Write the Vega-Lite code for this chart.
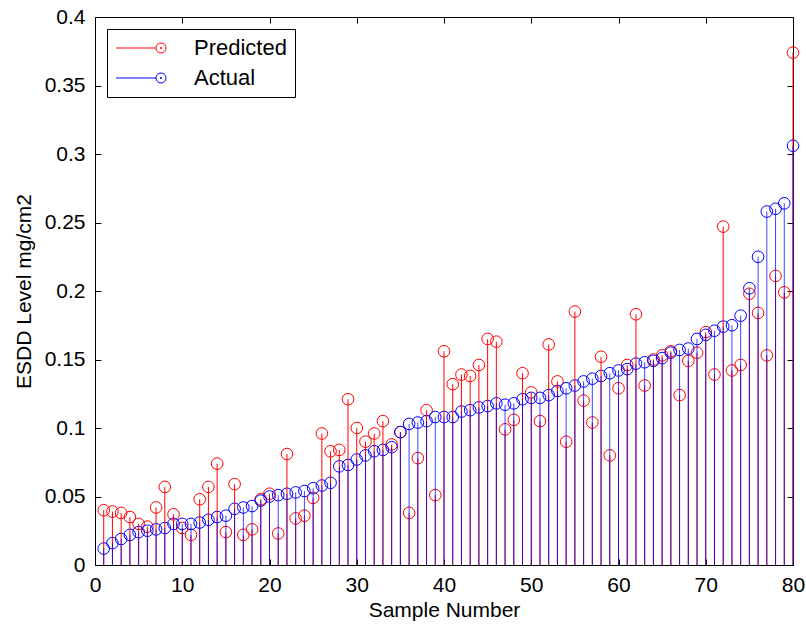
{
  "$schema": "https://vega.github.io/schema/vega-lite/v6.json",
  "width": 698,
  "height": 548,
  "autosize": {"type": "none"},
  "padding": {"left": 95, "top": 17, "right": 13, "bottom": 64},
  "background": "white",
  "config": {
    "view": {"stroke": "black", "strokeWidth": 1},
    "font": "Liberation Sans",
    "axis": {"labelFont": "Liberation Sans", "titleFont": "Liberation Sans", "labelColor": "black", "titleColor": "black", "domainColor": "black", "tickColor": "black", "grid": false, "titleFontWeight": "normal"},
    "legend": {"title": null, "orient": "top-left", "offset": 12, "strokeColor": "black", "fillColor": "white", "padding": 8,
               "labelFont": "Liberation Sans", "labelFontSize": 22, "labelColor": "black", "labelOffset": 57, "rowPadding": 8,
               "symbolType": "M-1,0L3,0M4,0L3.962,0.191L3.854,0.354L3.691,0.462L3.5,0.5L3.309,0.462L3.146,0.354L3.038,0.191L3,0L3.038,-0.191L3.146,-0.354L3.309,-0.462L3.5,-0.5L3.691,-0.462L3.854,-0.354L3.962,-0.191ZM3.45,-0.05L3.55,-0.05L3.55,0.05L3.45,0.05Z",
               "symbolSize": 400, "symbolStrokeWidth": 1, "symbolFillColor": "transparent"}
  },
  "data": {"values": [
    {"n":1,"s":"Predicted","v":0.040},{"n":2,"s":"Predicted","v":0.039},{"n":3,"s":"Predicted","v":0.038},{"n":4,"s":"Predicted","v":0.035},{"n":5,"s":"Predicted","v":0.030},{"n":6,"s":"Predicted","v":0.028},{"n":7,"s":"Predicted","v":0.042},{"n":8,"s":"Predicted","v":0.057},{"n":9,"s":"Predicted","v":0.037},{"n":10,"s":"Predicted","v":0.027},
    {"n":11,"s":"Predicted","v":0.022},{"n":12,"s":"Predicted","v":0.048},{"n":13,"s":"Predicted","v":0.057},{"n":14,"s":"Predicted","v":0.074},{"n":15,"s":"Predicted","v":0.024},{"n":16,"s":"Predicted","v":0.059},{"n":17,"s":"Predicted","v":0.022},{"n":18,"s":"Predicted","v":0.026},{"n":19,"s":"Predicted","v":0.048},{"n":20,"s":"Predicted","v":0.052},
    {"n":21,"s":"Predicted","v":0.023},{"n":22,"s":"Predicted","v":0.081},{"n":23,"s":"Predicted","v":0.034},{"n":24,"s":"Predicted","v":0.036},{"n":25,"s":"Predicted","v":0.049},{"n":26,"s":"Predicted","v":0.096},{"n":27,"s":"Predicted","v":0.083},{"n":28,"s":"Predicted","v":0.084},{"n":29,"s":"Predicted","v":0.121},{"n":30,"s":"Predicted","v":0.100},
    {"n":31,"s":"Predicted","v":0.090},{"n":32,"s":"Predicted","v":0.096},{"n":33,"s":"Predicted","v":0.105},{"n":34,"s":"Predicted","v":0.088},{"n":35,"s":"Predicted","v":0.097},{"n":36,"s":"Predicted","v":0.038},{"n":37,"s":"Predicted","v":0.078},{"n":38,"s":"Predicted","v":0.113},{"n":39,"s":"Predicted","v":0.051},{"n":40,"s":"Predicted","v":0.156},
    {"n":41,"s":"Predicted","v":0.132},{"n":42,"s":"Predicted","v":0.139},{"n":43,"s":"Predicted","v":0.138},{"n":44,"s":"Predicted","v":0.146},{"n":45,"s":"Predicted","v":0.165},{"n":46,"s":"Predicted","v":0.163},{"n":47,"s":"Predicted","v":0.099},{"n":48,"s":"Predicted","v":0.106},{"n":49,"s":"Predicted","v":0.140},{"n":50,"s":"Predicted","v":0.126},
    {"n":51,"s":"Predicted","v":0.105},{"n":52,"s":"Predicted","v":0.161},{"n":53,"s":"Predicted","v":0.134},{"n":54,"s":"Predicted","v":0.090},{"n":55,"s":"Predicted","v":0.185},{"n":56,"s":"Predicted","v":0.120},{"n":57,"s":"Predicted","v":0.104},{"n":58,"s":"Predicted","v":0.152},{"n":59,"s":"Predicted","v":0.080},{"n":60,"s":"Predicted","v":0.129},
    {"n":61,"s":"Predicted","v":0.146},{"n":62,"s":"Predicted","v":0.183},{"n":63,"s":"Predicted","v":0.131},{"n":64,"s":"Predicted","v":0.150},{"n":65,"s":"Predicted","v":0.153},{"n":66,"s":"Predicted","v":0.156},{"n":67,"s":"Predicted","v":0.124},{"n":68,"s":"Predicted","v":0.149},{"n":69,"s":"Predicted","v":0.155},{"n":70,"s":"Predicted","v":0.170},
    {"n":71,"s":"Predicted","v":0.139},{"n":72,"s":"Predicted","v":0.247},{"n":73,"s":"Predicted","v":0.142},{"n":74,"s":"Predicted","v":0.146},{"n":75,"s":"Predicted","v":0.198},{"n":76,"s":"Predicted","v":0.184},{"n":77,"s":"Predicted","v":0.153},{"n":78,"s":"Predicted","v":0.211},{"n":79,"s":"Predicted","v":0.199},{"n":80,"s":"Predicted","v":0.374},
    {"n":1,"s":"Actual","v":0.012},{"n":2,"s":"Actual","v":0.016},{"n":3,"s":"Actual","v":0.019},{"n":4,"s":"Actual","v":0.022},{"n":5,"s":"Actual","v":0.024},{"n":6,"s":"Actual","v":0.025},{"n":7,"s":"Actual","v":0.026},{"n":8,"s":"Actual","v":0.027},{"n":9,"s":"Actual","v":0.030},{"n":10,"s":"Actual","v":0.030},
    {"n":11,"s":"Actual","v":0.030},{"n":12,"s":"Actual","v":0.031},{"n":13,"s":"Actual","v":0.033},{"n":14,"s":"Actual","v":0.035},{"n":15,"s":"Actual","v":0.036},{"n":16,"s":"Actual","v":0.041},{"n":17,"s":"Actual","v":0.042},{"n":18,"s":"Actual","v":0.043},{"n":19,"s":"Actual","v":0.047},{"n":20,"s":"Actual","v":0.050},
    {"n":21,"s":"Actual","v":0.051},{"n":22,"s":"Actual","v":0.052},{"n":23,"s":"Actual","v":0.053},{"n":24,"s":"Actual","v":0.054},{"n":25,"s":"Actual","v":0.056},{"n":26,"s":"Actual","v":0.058},{"n":27,"s":"Actual","v":0.060},{"n":28,"s":"Actual","v":0.072},{"n":29,"s":"Actual","v":0.073},{"n":30,"s":"Actual","v":0.077},
    {"n":31,"s":"Actual","v":0.080},{"n":32,"s":"Actual","v":0.083},{"n":33,"s":"Actual","v":0.084},{"n":34,"s":"Actual","v":0.086},{"n":35,"s":"Actual","v":0.097},{"n":36,"s":"Actual","v":0.103},{"n":37,"s":"Actual","v":0.104},{"n":38,"s":"Actual","v":0.105},{"n":39,"s":"Actual","v":0.108},{"n":40,"s":"Actual","v":0.108},
    {"n":41,"s":"Actual","v":0.108},{"n":42,"s":"Actual","v":0.112},{"n":43,"s":"Actual","v":0.113},{"n":44,"s":"Actual","v":0.115},{"n":45,"s":"Actual","v":0.116},{"n":46,"s":"Actual","v":0.118},{"n":47,"s":"Actual","v":0.117},{"n":48,"s":"Actual","v":0.118},{"n":49,"s":"Actual","v":0.121},{"n":50,"s":"Actual","v":0.122},
    {"n":51,"s":"Actual","v":0.122},{"n":52,"s":"Actual","v":0.124},{"n":53,"s":"Actual","v":0.127},{"n":54,"s":"Actual","v":0.129},{"n":55,"s":"Actual","v":0.131},{"n":56,"s":"Actual","v":0.134},{"n":57,"s":"Actual","v":0.136},{"n":58,"s":"Actual","v":0.138},{"n":59,"s":"Actual","v":0.140},{"n":60,"s":"Actual","v":0.142},
    {"n":61,"s":"Actual","v":0.143},{"n":62,"s":"Actual","v":0.147},{"n":63,"s":"Actual","v":0.148},{"n":64,"s":"Actual","v":0.149},{"n":65,"s":"Actual","v":0.151},{"n":66,"s":"Actual","v":0.155},{"n":67,"s":"Actual","v":0.157},{"n":68,"s":"Actual","v":0.158},{"n":69,"s":"Actual","v":0.165},{"n":70,"s":"Actual","v":0.168},
    {"n":71,"s":"Actual","v":0.171},{"n":72,"s":"Actual","v":0.174},{"n":73,"s":"Actual","v":0.175},{"n":74,"s":"Actual","v":0.182},{"n":75,"s":"Actual","v":0.202},{"n":76,"s":"Actual","v":0.225},{"n":77,"s":"Actual","v":0.258},{"n":78,"s":"Actual","v":0.260},{"n":79,"s":"Actual","v":0.264},{"n":80,"s":"Actual","v":0.306}
  ]},
  "layer": [
    {
      "mark": {"type": "point", "shape": "circle", "filled": false, "size": 135, "strokeWidth": 1, "opacity": 1},
      "encoding": {
        "x": {"field": "n", "type": "quantitative", "scale": {"domain": [0, 80], "nice": false, "zero": false},
              "axis": {"orient": "bottom", "title": "Sample Number", "titleFontSize": 21, "labelFontSize": 21, "offset": -6, "tickSize": 6, "labelPadding": 9, "titlePadding": 4, "domain": false, "values": [0,10,20,30,40,50,60,70,80], "labelFlush": false}},
        "y": {"field": "v", "type": "quantitative", "scale": {"domain": [0, 0.4], "nice": false},
              "axis": {"orient": "left", "title": "ESDD Level mg/cm2", "titleFontSize": 21, "labelFontSize": 21, "offset": -6, "tickSize": 6, "labelPadding": 10, "titlePadding": 10, "domain": false, "format": "~g", "values": [0,0.05,0.1,0.15,0.2,0.25,0.3,0.35,0.4]}},
        "color": {"field": "s", "type": "nominal", "scale": {"domain": ["Predicted", "Actual"], "range": ["#ff0000", "#0000ff"]}}
      }
    },
    {
      "transform": [{"filter": "datum.s === 'Predicted'"}],
      "mark": {"type": "rule", "strokeWidth": 1, "color": "#ff0000"},
      "encoding": {
        "x": {"field": "n", "type": "quantitative",
              "axis": {"orient": "top", "labels": false, "title": null, "domain": false, "offset": -6, "tickSize": 6, "values": [0,10,20,30,40,50,60,70,80]}},
        "y": {"field": "v", "type": "quantitative",
              "axis": {"orient": "right", "labels": false, "title": null, "domain": false, "offset": -6, "tickSize": 6, "values": [0,0.05,0.1,0.15,0.2,0.25,0.3,0.35,0.4]}},
        "y2": {"datum": 0}
      }
    },
    {
      "transform": [{"filter": "datum.s === 'Actual'"}],
      "mark": {"type": "rule", "strokeWidth": 1, "color": "#0000ff", "opacity": 0.75},
      "encoding": {
        "x": {"field": "n", "type": "quantitative", "axis": null},
        "y": {"field": "v", "type": "quantitative", "axis": null},
        "y2": {"datum": 0}
      }
    }
  ],
  "resolve": {"axis": {"x": "independent", "y": "independent"}}
}
